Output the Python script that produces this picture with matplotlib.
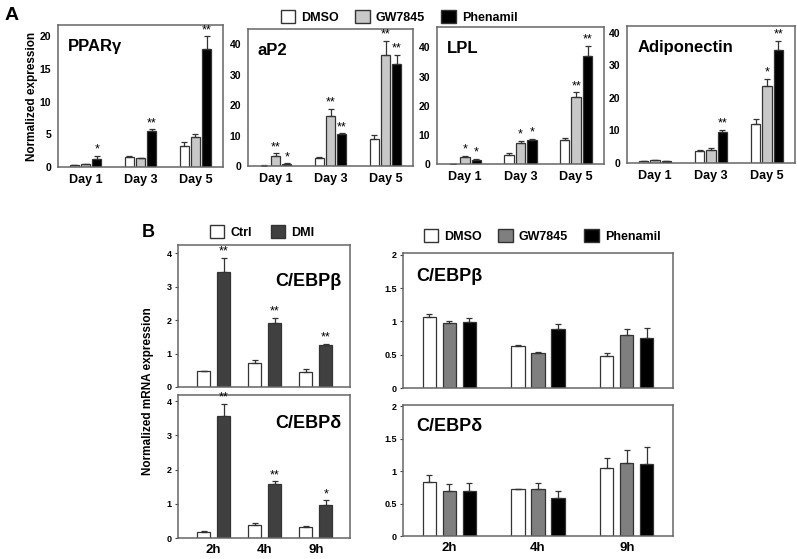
import numpy as np
import matplotlib.pyplot as plt
from matplotlib.patches import Patch

plt.rcParams['font.family'] = ['Liberation Sans', 'DejaVu Sans']
plt.rcParams['font.weight'] = 'bold'
plt.rcParams['axes.labelweight'] = 'bold'

# ---- data ----
days = ['Day 1', 'Day 3', 'Day 5']
hours = ['2h', '4h', '9h']
treatments = ['DMSO', 'GW7845', 'Phenamil']

# panel A: rows are DMSO, GW7845, Phenamil
pparg_mean = [[0.25, 1.6, 3.15], [0.4, 1.3, 4.6], [1.2, 5.5, 18.0]]
pparg_err = [[0.05, 0.1, 0.65], [0.1, 0.1, 0.5], [0.55, 0.3, 2.0]]
pparg_stars = [['', '', ''], ['', '', ''], ['*', '**', '**']]

ap2_mean = [[0.15, 2.7, 9.0], [3.4, 16.5, 36.4], [0.65, 10.5, 33.4]]
ap2_err = [[0.05, 0.2, 1.3], [0.8, 2.3, 4.7], [0.35, 0.3, 3.1]]
ap2_stars = [['', '', ''], ['**', '**', '**'], ['*', '**', '**']]

lpl_mean = [[0.1, 3.25, 8.1], [2.3, 7.3, 23.0], [1.5, 8.1, 36.9]]
lpl_err = [[0.05, 0.55, 0.8], [0.6, 0.7, 1.7], [0.3, 0.6, 3.7]]
lpl_stars = [['', '', ''], ['*', '*', '**'], ['*', '*', '**']]

adipo_mean = [[0.5, 3.8, 12.1], [0.8, 4.0, 23.5], [0.5, 9.4, 34.6]]
adipo_err = [[0.1, 0.2, 1.3], [0.15, 0.6, 2.3], [0.1, 0.8, 2.9]]
adipo_stars = [['', '', ''], ['', '', '*'], ['', '**', '**']]

# panel B left: rows are Ctrl, DMI
cebpb_dmi_mean = [[0.47, 0.71, 0.46], [3.45, 1.93, 1.27]]
cebpb_dmi_err = [[0.01, 0.11, 0.07], [0.42, 0.15, 0.03]]
cebpb_dmi_stars = [['', '', ''], ['**', '**', '**']]

cebpd_dmi_mean = [[0.19, 0.39, 0.32], [3.57, 1.58, 0.96]]
cebpd_dmi_err = [[0.01, 0.05, 0.03], [0.36, 0.08, 0.14]]
cebpd_dmi_stars = [['', '', ''], ['**', '**', '*']]

# panel B right: rows are DMSO, GW7845, Phenamil
cebpb_mean = [[1.07, 0.63, 0.48], [0.97, 0.53, 0.79], [0.99, 0.88, 0.75]]
cebpb_err = [[0.04, 0.01, 0.05], [0.03, 0.01, 0.1], [0.06, 0.08, 0.15]]

cebpd_mean = [[0.83, 0.72, 1.05], [0.70, 0.73, 1.13], [0.69, 0.58, 1.11]]
cebpd_err = [[0.11, 0.01, 0.15], [0.10, 0.09, 0.20], [0.13, 0.12, 0.26]]

colors_a = ['white', '#c8c8c8', 'black']
colors_b = ['white', '#7f7f7f', 'black']
colors_dmi = ['white', '#404040']

W, H = 797, 559
fig = plt.figure(figsize=(W / 100, H / 100), dpi=100)


def add_panel(left, top, right, bottom):
    return fig.add_axes([left / W, 1 - bottom / H, (right - left) / W, (bottom - top) / H])


def draw_bars(ax, means, errs, colors, width, step, stars=None, star_size=9):
    x = np.arange(len(means[0]))
    n = len(means)
    for i in range(n):
        pos = x + (i - (n - 1) / 2) * step
        m = np.array(means[i])
        e = np.array(errs[i])
        ax.bar(pos, m, width, color=colors[i], edgecolor='#333333', linewidth=0.9,
               yerr=[np.zeros_like(e), e],
               error_kw=dict(ecolor='#333333', elinewidth=0.9, capsize=2, capthick=0.9))
        if stars is not None:
            for p, mm, ee, s in zip(pos, m, e, stars[i]):
                if s:
                    ax.annotate(s, (p, mm + ee), xytext=(0, 0), textcoords='offset points',
                                ha='center', va='bottom', fontsize=star_size, fontweight='normal')
    return x


def style_axes(ax, ylim, yticks, ticklabels, label_size):
    ax.set_ylim(*ylim)
    ax.set_yticks(yticks)
    ax.set_yticklabels(ticklabels)
    for s in ax.spines.values():
        s.set_color('#666666')
        s.set_linewidth(1.1)
    ax.tick_params(axis='y', labelsize=label_size, length=2.5, width=0.8, pad=2, color='#444444')
    ax.tick_params(axis='x', length=0, labelsize=9, pad=5)


# ---- panel A ----
a_boxes = [(58, 25, 223, 167), (248, 29, 413, 166), (437, 27, 604, 164), (627, 26, 795, 163)]
a_data = [(pparg_mean, pparg_err, pparg_stars, 'PPARγ', 21.7, [0, 5, 10, 15, 20]),
          (ap2_mean, ap2_err, ap2_stars, 'aP2', 45, [0, 10, 20, 30, 40]),
          (lpl_mean, lpl_err, lpl_stars, 'LPL', 47, [0, 10, 20, 30, 40]),
          (adipo_mean, adipo_err, adipo_stars, 'Adiponectin', 42, [0, 10, 20, 30, 40])]

for box, (mean, err, stars, title, ytop, yt) in zip(a_boxes, a_data):
    ax = add_panel(*box)
    x = draw_bars(ax, mean, err, colors_a, 0.17, 0.205, stars)
    ax.set_xlim(-0.5, 2.5)
    ax.set_xticks(x)
    ax.set_xticklabels(days)
    style_axes(ax, (0, ytop), yt, [str(v) for v in yt], 7.5)
    ax.tick_params(axis='y', length=0, pad=5)
    ax.text(0.06, 0.9, title, transform=ax.transAxes, fontsize=12, ha='left', va='top')

fig.text(32 / W, 1 - 96 / H, 'Normalized expression', rotation=90, fontsize=8.5,
         ha='center', va='center')
fig.text(5 / W, 1 - 16 / H, 'A', fontsize=14, ha='left', va='center')
fig.legend(handles=[Patch(facecolor=c, edgecolor='#333333', label=t) for c, t in zip(colors_a, treatments)],
           loc='center', bbox_to_anchor=(399 / W, 1 - 17 / H), ncol=3, frameon=False,
           fontsize=9, handlelength=1.15, handleheight=1.15, handletextpad=0.5,
           columnspacing=1.3, borderaxespad=0)

# ---- panel B left ----
bl_top = add_panel(178, 245, 350, 387)
x = draw_bars(bl_top, cebpb_dmi_mean, cebpb_dmi_err, colors_dmi, 0.26, 0.39, cebpb_dmi_stars)
bl_top.set_xlim(-0.7, 2.67)
bl_top.set_xticks([])
style_axes(bl_top, (0, 4.25), [0, 1, 2, 3, 4], ['0', '1', '2', '3', '4'], 6.5)
bl_top.text(0.95, 0.8, 'C/EBPβ', transform=bl_top.transAxes, fontsize=13, ha='right', va='top')

bl_bot = add_panel(178, 395, 350, 538)
x = draw_bars(bl_bot, cebpd_dmi_mean, cebpd_dmi_err, colors_dmi, 0.26, 0.39, cebpd_dmi_stars)
bl_bot.set_xlim(-0.7, 2.67)
bl_bot.set_xticks(x)
bl_bot.set_xticklabels(hours)
style_axes(bl_bot, (0, 4.18), [0, 1, 2, 3, 4], ['0', '1', '2', '3', '4'], 6.5)
bl_bot.tick_params(axis='x', labelsize=9.5, pad=4)
bl_bot.text(0.95, 0.86, 'C/EBPδ', transform=bl_bot.transAxes, fontsize=13, ha='right', va='top')

fig.text(148 / W, 1 - 391 / H, 'Normalized mRNA expression', rotation=90, fontsize=8.5,
         ha='center', va='center')
fig.text(142 / W, 1 - 232 / H, 'B', fontsize=13, ha='left', va='center')
fig.legend(handles=[Patch(facecolor=c, edgecolor='#333333', label=t) for c, t in zip(colors_dmi, ['Ctrl', 'DMI'])],
           loc='center', bbox_to_anchor=(262 / W, 1 - 232 / H), ncol=2, frameon=False,
           fontsize=9, handlelength=1.15, handleheight=1.15, handletextpad=0.5,
           columnspacing=1.5, borderaxespad=0)

# ---- panel B right ----
br_top = add_panel(403, 253, 673, 388)
x = draw_bars(br_top, cebpb_mean, cebpb_err, colors_b, 0.15, 0.225)
br_top.set_xlim(-0.52, 2.52)
br_top.set_xticks([])
style_axes(br_top, (0, 2.03), [0, 0.5, 1, 1.5, 2], ['0', '0.5', '1', '1.5', '2'], 6.5)
br_top.text(0.05, 0.89, 'C/EBPβ', transform=br_top.transAxes, fontsize=13, ha='left', va='top')

br_bot = add_panel(403, 405, 673, 536)
x = draw_bars(br_bot, cebpd_mean, cebpd_err, colors_b, 0.15, 0.225)
br_bot.set_xlim(-0.52, 2.52)
br_bot.set_xticks(x)
br_bot.set_xticklabels(hours)
style_axes(br_bot, (0, 2.02), [0, 0.5, 1, 1.5, 2], ['0', '0.5', '1', '1.5', '2'], 6.5)
br_bot.tick_params(axis='x', labelsize=9.5, pad=4)
br_bot.text(0.05, 0.9, 'C/EBPδ', transform=br_bot.transAxes, fontsize=13, ha='left', va='top')

fig.legend(handles=[Patch(facecolor=c, edgecolor='#333333', label=t) for c, t in zip(colors_b, treatments)],
           loc='center', bbox_to_anchor=(542 / W, 1 - 236 / H), ncol=3, frameon=False,
           fontsize=9, handlelength=1.15, handleheight=1.15, handletextpad=0.5,
           columnspacing=1.3, borderaxespad=0)

fig.savefig('out.png', dpi=100)
